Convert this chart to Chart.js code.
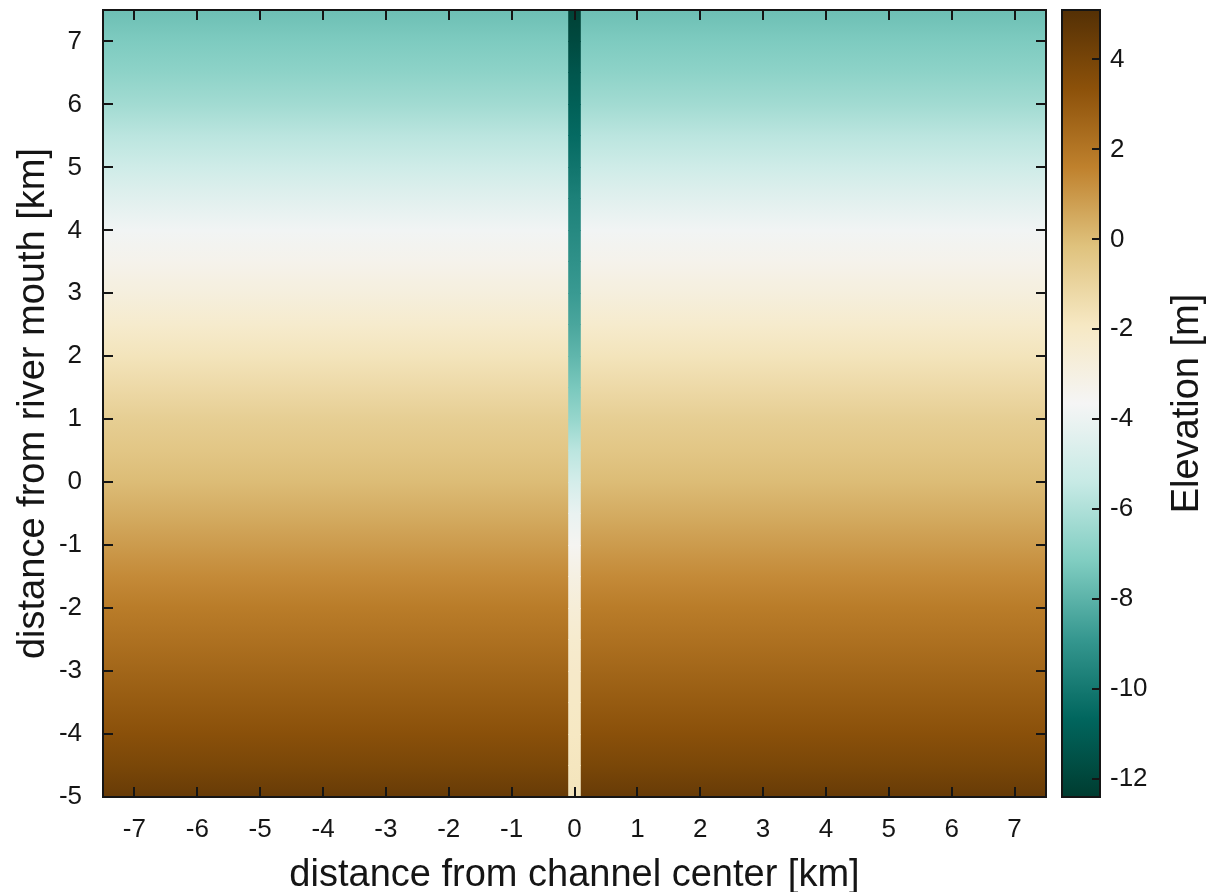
<!DOCTYPE html>
<html lang="en">
<head>
<meta charset="UTF-8">
<title>Elevation map</title>
<script src="https://cdn.jsdelivr.net/npm/chart.js"></script>
<style>
  html, body { margin: 0; padding: 0; background: #fff; }
  #wrap { position: relative; width: 1208px; height: 892px; }
  #main { position: absolute; left: 0; top: 0; }
  #cbar { position: absolute; left: 1052px; top: 0; }
</style>
</head>
<body>
<div id="wrap">
  <canvas id="main" width="1052" height="892"></canvas>
  <canvas id="cbar" width="156" height="892"></canvas>
</div>
<script>
// distance from river mouth [km] of each sampled row
const rowY = [-5, -4.5, -4, -3.5, -3, -2.5, -2, -1.5, -1, -0.5, 0, 0.5, 1, 1.5, 2, 2.5, 3, 3.5, 4, 4.5, 5, 5.5, 6, 6.5, 7, 7.5];
// elevation [m] away from the channel, per row
const plainElev = [4.5, 3.9, 3.4, 3.0, 2.6, 2.2, 1.8, 1.35, 0.9, 0.45, 0.0, -0.35, -0.7, -1.2, -1.7, -2.25, -2.8, -3.3, -3.8, -4.4, -5.1, -5.7, -6.3, -6.8, -7.2, -7.6];
// elevation [m] inside the channel, per row
const channelElev = [-1.7, -1.8, -1.9, -2.0, -2.1, -2.3, -2.6, -3.0, -3.5, -4.1, -4.9, -5.7, -6.6, -7.3, -7.9, -8.4, -8.8, -9.1, -9.4, -9.7, -10.1, -10.5, -10.9, -11.3, -11.8, -12.2];
const channelEdges = [-0.1, 0.1];

const xRange = [-7.5, 7.5];
const yRange = [-5, 7.5];
const cbRange = [-12.4, 5.1];
const xTicks = [-7, -6, -5, -4, -3, -2, -1, 0, 1, 2, 3, 4, 5, 6, 7];
const yTicks = [-5, -4, -3, -2, -1, 0, 1, 2, 3, 4, 5, 6, 7];
const cbTicks = [-12, -10, -8, -6, -4, -2, 0, 2, 4];

// BrBG, brown = high, teal = low
const brbg = ['#543005', '#8c510a', '#bf812d', '#dfc27d', '#f6e8c3', '#f5f5f5', '#c7eae5', '#80cdc1', '#35978f', '#01665e', '#003c30'];

const FONT = '"Liberation Sans", Arial, sans-serif';
const INK = '#151515';
Chart.defaults.font.family = FONT;
Chart.defaults.color = INK;

const stops = brbg.map(h => [1, 3, 5].map(i => parseInt(h.substr(i, 2), 16)));

function elevColor(v) {
    let t = (cbRange[1] - v) / (cbRange[1] - cbRange[0]);
    t = Math.min(1, Math.max(0, t)) * (stops.length - 1);
    const i = Math.min(Math.floor(t), stops.length - 2);
    const f = t - i;
    const a = stops[i], b = stops[i + 1];
    const c = a.map((x, k) => Math.round(x + (b[k] - x) * f));
    return `rgb(${c[0]},${c[1]},${c[2]})`;
}

function paintStrip(chart, x0, x1, values) {
    const { ctx, scales: { x, y } } = chart;
    const left = x.getPixelForValue(x0), right = x.getPixelForValue(x1);
    for (let i = 0; i < rowY.length - 1; i++) {
        const ya = y.getPixelForValue(rowY[i]);
        const yb = y.getPixelForValue(rowY[i + 1]);
        const g = ctx.createLinearGradient(0, ya, 0, yb);
        g.addColorStop(0, elevColor(values[i]));
        g.addColorStop(1, elevColor(values[i + 1]));
        ctx.fillStyle = g;
        ctx.fillRect(left, Math.floor(yb), right - left, Math.ceil(ya) - Math.floor(yb));
    }
}

const heatmap = {
    id: 'heatmap',
    beforeDatasetsDraw(chart) {
        const { ctx, chartArea: a } = chart;
        ctx.save();
        ctx.beginPath();
        ctx.rect(a.left, a.top, a.right - a.left, a.bottom - a.top);
        ctx.clip();
        paintStrip(chart, xRange[0], xRange[1], plainElev);
        paintStrip(chart, channelEdges[0], channelEdges[1], channelElev);
        ctx.restore();
    }
};

// frame with inward tick marks on all four sides
const frame = {
    id: 'frame',
    afterDraw(chart) {
        const { ctx, chartArea: a, scales: { x, y } } = chart;
        const len = 10;
        ctx.save();
        ctx.strokeStyle = INK;
        ctx.lineWidth = 2;
        ctx.beginPath();
        xTicks.forEach(v => {
            const px = Math.round(x.getPixelForValue(v));
            ctx.moveTo(px, a.bottom); ctx.lineTo(px, a.bottom - len);
            ctx.moveTo(px, a.top); ctx.lineTo(px, a.top + len);
        });
        yTicks.forEach(v => {
            const py = Math.round(y.getPixelForValue(v));
            ctx.moveTo(a.left, py); ctx.lineTo(a.left + len, py);
            ctx.moveTo(a.right, py); ctx.lineTo(a.right - len, py);
        });
        ctx.stroke();
        ctx.strokeRect(a.left, a.top, a.right - a.left, a.bottom - a.top);
        ctx.restore();
    }
};

new Chart(document.getElementById('main'), {
    type: 'scatter',
    data: { datasets: [] },
    options: {
        responsive: false,
        animation: false,
        layout: { autoPadding: false, padding: { top: 10, right: 6, left: 0, bottom: 0 } },
        plugins: { legend: { display: false }, tooltip: { enabled: false } },
        scales: {
            x: {
                type: 'linear', min: xRange[0], max: xRange[1],
                afterBuildTicks: s => { s.ticks = xTicks.map(v => ({ value: v })); },
                afterFit: s => { s.height = 95; s.paddingLeft = 0; s.paddingRight = 0; },
                grid: { display: false, drawTicks: false }, border: { display: false },
                ticks: { font: { size: 26 }, padding: 17, maxRotation: 0, callback: v => String(v) },
                title: { display: true, text: 'distance from channel center [km]', font: { size: 38 }, padding: { top: 0, bottom: -6 } }
            },
            y: {
                type: 'linear', min: yRange[0], max: yRange[1],
                afterBuildTicks: s => { s.ticks = yTicks.map(v => ({ value: v })); },
                afterFit: s => { s.width = 103; s.paddingTop = 0; s.paddingBottom = 0; },
                grid: { display: false, drawTicks: false }, border: { display: false },
                ticks: { font: { size: 26 }, padding: 21, callback: v => String(v) },
                title: { display: true, text: 'distance from river mouth [km]', font: { size: 38 }, padding: { top: 11, bottom: 0 } }
            }
        }
    },
    plugins: [heatmap, frame]
});

const colorbar = {
    id: 'colorbar',
    beforeDatasetsDraw(chart) {
        const { ctx, chartArea: a, scales: { y } } = chart;
        const g = ctx.createLinearGradient(0, a.top, 0, a.bottom);
        brbg.forEach((c, k) => {
            const v = cbRange[1] - k / (brbg.length - 1) * (cbRange[1] - cbRange[0]);
            const p = (y.getPixelForValue(v) - a.top) / (a.bottom - a.top);
            g.addColorStop(Math.min(1, Math.max(0, p)), c);
        });
        ctx.save();
        ctx.fillStyle = g;
        ctx.fillRect(a.left, a.top, a.right - a.left, a.bottom - a.top);
        ctx.restore();
    },
    afterDraw(chart) {
        const { ctx, chartArea: a, scales: { y } } = chart;
        ctx.save();
        ctx.strokeStyle = INK;
        ctx.lineWidth = 2;
        ctx.beginPath();
        cbTicks.forEach(v => {
            const py = Math.round(y.getPixelForValue(v));
            ctx.moveTo(a.right, py); ctx.lineTo(a.right - 8, py);
        });
        ctx.stroke();
        ctx.strokeRect(a.left, a.top, a.right - a.left, a.bottom - a.top);
        ctx.translate(136, (a.top + a.bottom) / 2);
        ctx.rotate(-Math.PI / 2);
        ctx.fillStyle = INK;
        ctx.font = '38px ' + FONT;
        ctx.textAlign = 'center';
        ctx.textBaseline = 'middle';
        ctx.fillText('Elevation [m]', 0, 0);
        ctx.restore();
    }
};

new Chart(document.getElementById('cbar'), {
    type: 'scatter',
    data: { datasets: [] },
    options: {
        responsive: false,
        animation: false,
        layout: { autoPadding: false, padding: { top: 10, right: 0, left: 10, bottom: 95 } },
        plugins: { legend: { display: false }, tooltip: { enabled: false } },
        scales: {
            x: { display: false, min: 0, max: 1 },
            y: {
                type: 'linear', position: 'right', min: cbRange[0], max: cbRange[1],
                afterBuildTicks: s => { s.ticks = cbTicks.map(v => ({ value: v })); },
                afterFit: s => { s.width = 108; s.paddingTop = 0; s.paddingBottom = 0; },
                grid: { display: false, drawTicks: false }, border: { display: false },
                ticks: { font: { size: 26 }, padding: 10, callback: v => String(v) }
            }
        }
    },
    plugins: [colorbar]
});
</script>
</body>
</html>
